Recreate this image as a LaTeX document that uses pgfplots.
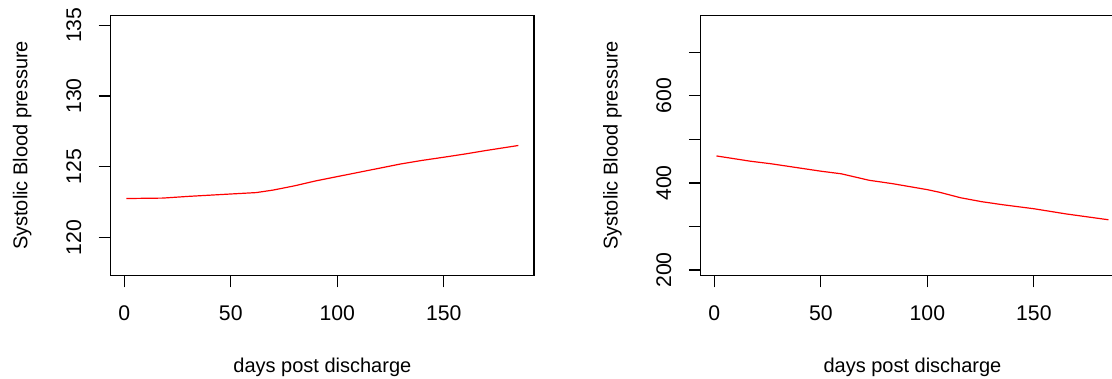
\documentclass[border=0pt]{standalone}
\usepackage{fontspec}
\setmainfont{Liberation Sans}
\usepackage{pgfplots}
\pgfplotsset{compat=1.18}
\begin{document}
\begin{tikzpicture}[x=1pt,y=1pt]
\useasboundingbox (0,0) rectangle (556,189.5);
\clip (0,0) rectangle (556,189.5);
\pgfplotsset{rstyle/.style={
  scale only axis, width=211.65pt, height=129.8pt,
  anchor=south west,
  xmin=-6.36, xmax=192.36,
  axis line style={line width=0.6pt, black},
  tick style={line width=0.6pt, black},
  tick align=outside, major tick length=6pt,
  tick pos=left,
  xtick={0,50,100,150},
  /pgf/number format/assume math mode=true,
  xticklabel style={anchor=north, inner sep=0pt, font=\fontsize{10.6}{12}\selectfont},
  yticklabel style={rotate=90, anchor=south, inner sep=0pt, font=\fontsize{10.6}{12}\selectfont},
  xticklabel shift=9pt,
  yticklabel shift=8.5pt,
  label style={font=\fontsize{10.6}{12}\selectfont},
  every axis x label/.style={at={(axis description cs:0.5,-0.375)}, anchor=base, inner sep=0pt},
  every axis y label/.style={at={(axis description cs:-0.186,0.5)}, rotate=90, anchor=south, inner sep=0pt},
  xlabel={days post discharge},
  ylabel={Systolic Blood pressure},
}}
\begin{axis}[rstyle, at={(55.35pt,51.85pt)},
  ymin=117.32, ymax=135.68, ytick={120,125,130,135}]
\addplot[red, line width=0.6pt] coordinates {
(1,122.75) (18,122.78) (30,122.9) (50,123.07) (62,123.17) (70,123.35)
(80,123.65) (90,124.0) (100,124.3) (110,124.6) (120,124.9) (130,125.2)
(140,125.45) (150,125.67) (160,125.9) (170,126.15) (185,126.5)};
\end{axis}
\begin{axis}[rstyle, at={(350.4pt,51.85pt)},
  ymin=188, ymax=784, ytick={200,300,400,500,600,700},
  yticklabels={200,,400,,600,}]
\addplot[red, line width=0.6pt] coordinates {
(1,462) (16.8,450) (26.7,444) (50,427) (59.6,421) (72.8,406) (83.5,398.5)
(100,384.6) (105.8,378.5) (115.6,366) (125.5,357) (135.4,350) (150,340.8)
(165,329) (185,315.5)};
\end{axis}
\end{tikzpicture}
\end{document}
